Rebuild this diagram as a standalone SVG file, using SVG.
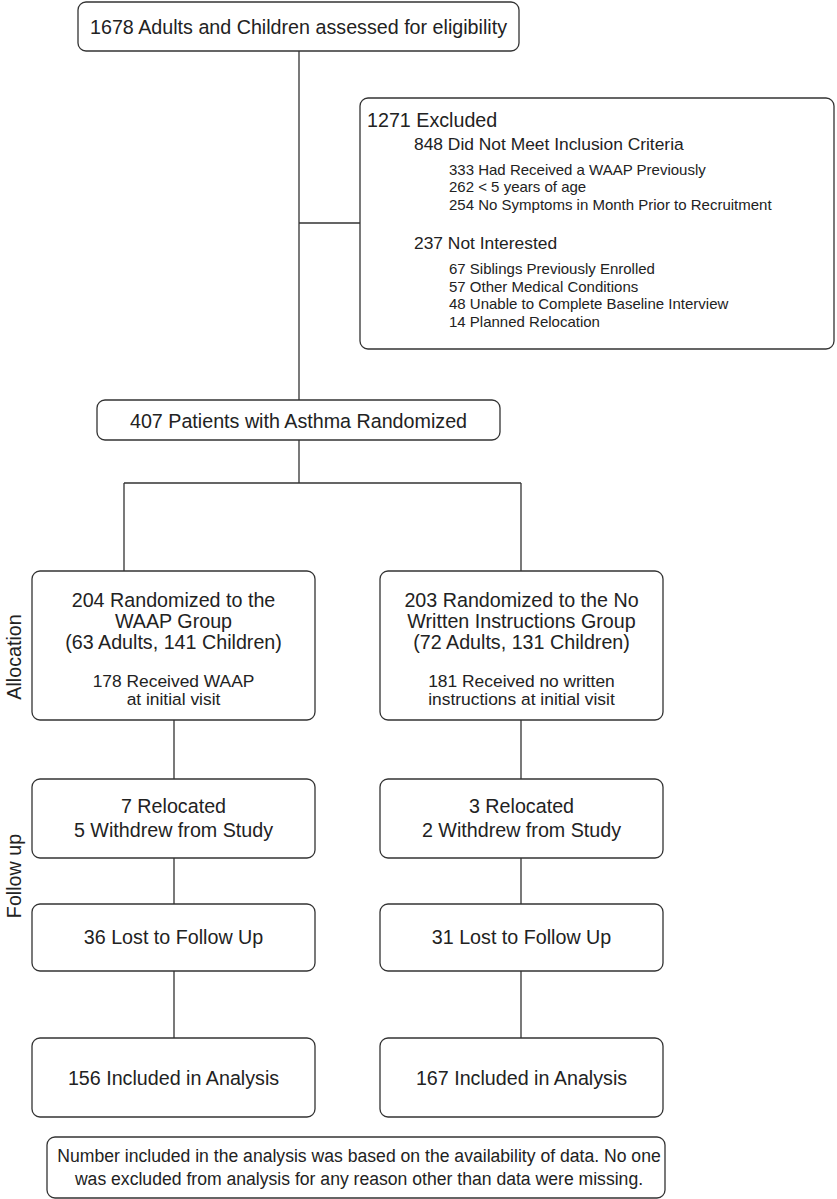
<svg xmlns="http://www.w3.org/2000/svg" width="837" height="1199" viewBox="0 0 837 1199">
<style>
.box{fill:#fff;stroke:#333;stroke-width:1.3}
.ln{stroke:#333;stroke-width:1.3;fill:none}
text{font-family:"Liberation Sans",Arial,sans-serif;fill:#222}
.t20{font-size:19.7px}
.t17{font-size:17.4px}
.t15{font-size:15px}
.n{font-size:17.6px}
.c{text-anchor:middle}
</style>
<rect width="837" height="1199" fill="#fff"/>
<g id="connectors">
<path class="ln" d="M299 51V400M299 223H360M299 440V483M124 483H521M124 483V571M521 483V571"/>
<path class="ln" d="M174 720V779M174 858V904M174 971V1038"/>
<path class="ln" d="M521 720V779M521 858V904M521 971V1038"/>
</g>
<g id="label-allocation"><text class="t20 c" transform="translate(21 657) rotate(-90)">Allocation</text></g>
<g id="label-followup"><text class="t20 c" transform="translate(21 876) rotate(-90)">Follow up</text></g>
<g id="assessed">
<rect class="box" x="78" y="2" width="441" height="49" rx="8"/>
<text class="t20 c" x="298.5" y="34">1678 Adults and Children assessed for eligibility</text>
</g>
<g id="excluded">
<rect class="box" x="360" y="98" width="474" height="251" rx="8"/>
<text class="t20" x="367" y="127">1271 Excluded</text>
<text class="t17" x="414" y="150">848 Did Not Meet Inclusion Criteria</text>
<text class="t15" x="449" y="175">333 Had Received a WAAP Previously</text>
<text class="t15" x="449" y="192">262 &lt; 5 years of age</text>
<text class="t15" x="449" y="210">254 No Symptoms in Month Prior to Recruitment</text>
<text class="t17" x="414" y="249">237 Not Interested</text>
<text class="t15" x="449" y="274">67 Siblings Previously Enrolled</text>
<text class="t15" x="449" y="292">57 Other Medical Conditions</text>
<text class="t15" x="449" y="309">48 Unable to Complete Baseline Interview</text>
<text class="t15" x="449" y="327">14 Planned Relocation</text>
</g>
<g id="randomized">
<rect class="box" x="97" y="400" width="403" height="40" rx="8"/>
<text class="t20 c" x="298.5" y="428">407 Patients with Asthma Randomized</text>
</g>
<g id="waap">
<rect class="box" x="32" y="571" width="283" height="149" rx="8"/>
<text class="t20 c" x="173.5" y="607">204 Randomized to the</text>
<text class="t20 c" x="173.5" y="628">WAAP Group</text>
<text class="t20 c" x="173.5" y="649">(63 Adults, 141 Children)</text>
<text class="t17 c" x="173.5" y="687">178 Received WAAP</text>
<text class="t17 c" x="173.5" y="705">at initial visit</text>
</g>
<g id="nowritten">
<rect class="box" x="380" y="571" width="283" height="149" rx="8"/>
<text class="t20 c" x="521.5" y="607">203 Randomized to the No</text>
<text class="t20 c" x="521.5" y="628">Written Instructions Group</text>
<text class="t20 c" x="521.5" y="649">(72 Adults, 131 Children)</text>
<text class="t17 c" x="521.5" y="687">181 Received no written</text>
<text class="t17 c" x="521.5" y="705">instructions at initial visit</text>
</g>
<g id="relocated-left">
<rect class="box" x="32" y="779" width="283" height="79" rx="8"/>
<text class="t20 c" x="173.5" y="813">7 Relocated</text>
<text class="t20 c" x="173.5" y="837">5 Withdrew from Study</text>
</g>
<g id="relocated-right">
<rect class="box" x="380" y="779" width="283" height="79" rx="8"/>
<text class="t20 c" x="521.5" y="813">3 Relocated</text>
<text class="t20 c" x="521.5" y="837">2 Withdrew from Study</text>
</g>
<g id="lost-left">
<rect class="box" x="32" y="904" width="283" height="67" rx="8"/>
<text class="t20 c" x="173.5" y="944">36 Lost to Follow Up</text>
</g>
<g id="lost-right">
<rect class="box" x="380" y="904" width="283" height="67" rx="8"/>
<text class="t20 c" x="521.5" y="944">31 Lost to Follow Up</text>
</g>
<g id="included-left">
<rect class="box" x="32" y="1038" width="283" height="79" rx="8"/>
<text class="t20 c" x="173.5" y="1085">156 Included in Analysis</text>
</g>
<g id="included-right">
<rect class="box" x="380" y="1038" width="283" height="79" rx="8"/>
<text class="t20 c" x="521.5" y="1085">167 Included in Analysis</text>
</g>
<g id="note">
<rect class="box" x="47" y="1137" width="618" height="61" rx="8"/>
<text class="n c" x="359" y="1162">Number included in the analysis was based on the availability of data. No one</text>
<text class="n c" x="359" y="1185">was excluded from analysis for any reason other than data were missing.</text>
</g>
</svg>
